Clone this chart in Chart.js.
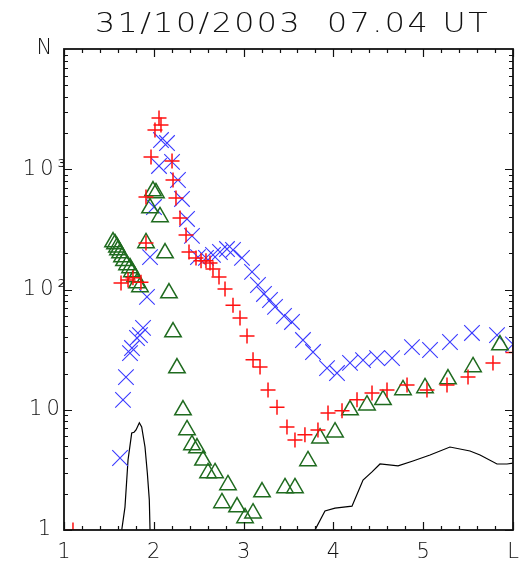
<!DOCTYPE html>
<html><head><meta charset="utf-8">
<script src="https://cdn.jsdelivr.net/npm/chart.js@4.4.0/dist/chart.umd.min.js"></script>
<style>html,body{margin:0;padding:0;background:#fff;} #wrap{width:527px;height:577px;}</style>
</head><body><div id="wrap"><canvas id="c" width="527" height="577"></canvas></div>
<script>
const titleText = '31/10/2003  07.04 UT';
const xTickValues = [1, 2, 3, 4, 5, 6];
const xTickLabels = ['1', '2', '3', '4', '5', 'L'];
const yTickValues = [1, 10, 100, 1000, 10000];
const yTickLabels = ['1', '10', '10\u00B2', '10\u00B3', 'N'];

const redL = [1.10,1.635,1.713,1.768,1.857,1.913,1.913,1.969,2.013,2.058,2.080,2.203,2.214,2.247,2.292,2.359,2.392,2.470,2.526,2.581,2.626,2.659,2.726,2.793,2.882,2.960,3.038,3.105,3.183,3.272,3.372,3.483,3.572,3.683,3.828,3.940,4.096,4.263,4.430,4.597,4.820,5.042,5.265,5.499,5.777,6.000];
const redN = [1.0,113,120,125,115,244,587,1265,2120,2670,2330,1170,814,577,393,284,205,183,173,173,166,148,127,101,74,58,41,26,22.7,14.6,10.5,7.2,5.6,6.2,6.8,9.4,9.8,12.1,13.8,14.6,16.1,14.6,16.1,18.7,24.5,30];

const blueL = [1.624,1.657,1.690,1.735,1.757,1.813,1.846,1.880,1.924,1.958,2.002,2.058,2.080,2.147,2.203,2.269,2.314,2.370,2.425,2.492,2.581,2.659,2.737,2.815,2.882,2.982,3.094,3.160,3.227,3.294,3.350,3.450,3.539,3.661,3.773,3.929,4.040,4.185,4.330,4.486,4.653,4.875,5.076,5.298,5.543,5.822,6.0];
const blueN = [3.97,12.1,18.7,29.6,32.6,39.5,41.8,47.9,86.7,186,485,1065,1750,1652,1150,814,566,386,279,186,183,194,205,217,213,183,140,109,91.8,81.8,71.6,60.2,53.7,38,30.2,22.2,20.2,24.5,25.9,26.9,26.9,33.2,31.4,36.6,43.5,41.8,35];

const greenL = [1.546,1.568,1.590,1.601,1.624,1.646,1.668,1.702,1.735,1.757,1.791,1.813,1.846,1.913,1.991,2.024,1.958,2.069,2.125,2.169,2.214,2.258,2.325,2.370,2.425,2.481,2.548,2.604,2.682,2.826,2.759,2.927,3.016,3.105,3.205,3.461,3.572,3.717,3.851,4.018,4.185,4.374,4.552,4.775,5.020,5.276,5.555,5.855];
const greenN = [248,239,225,213,201,186,173,160,151,140,127,113,105,244,659,635,476,401,201,93.5,44.3,22.2,9.95,6.8,5.1,4.8,3.8,2.98,2.98,2.37,1.68,1.55,1.26,1.38,2.07,2.24,2.24,3.75,5.8,6.5,9.95,10.9,12.1,14.6,15.2,18,22.7,34.5];

const lineL = [1.62,1.643,1.679,1.713,1.754,1.780,1.802,1.839,1.865,1.902,1.928,1.950,1.958,1.98,3.77,3.795,3.906,4.018,4.207,4.330,4.430,4.519,4.720,4.886,5.076,5.298,5.521,5.633,5.822,5.933,6.0];
const lineN = [0.5,1.0,1.55,3.82,6.4,6.5,6.8,7.8,7.2,4.9,2.98,1.78,1.0,0.5,0.5,1.0,1.44,1.52,1.58,2.6,3.04,3.54,3.41,3.75,4.2,4.9,4.54,4.2,3.54,3.54,3.6];

const pts = (xs, ys) => xs.map((v, i) => ({x: v, y: ys[i]}));
const FONT = 'DejaVu Sans';

const idlAxes = {
  id: 'idlAxes',
  beforeDraw(chart) {
    try { chart.ctx.letterSpacing = '4px'; } catch (e) {}
  },
  afterDatasetsDraw(chart) {
    const {ctx, chartArea: a} = chart;
    const x = chart.scales.x, y = chart.scales.y;
    ctx.save();
    ctx.strokeStyle = '#111';
    ctx.lineWidth = 1.8;
    ctx.strokeRect(a.left, a.top, a.right - a.left, a.bottom - a.top);
    ctx.lineWidth = 1.2;
    ctx.beginPath();
    for (let k = 0; k <= 25; k++) {
      const v = 1 + k * 0.2;
      const px = Math.round(x.getPixelForValue(v)) + 0.5;
      const len = (k % 5 === 0) ? 8 : 4;
      ctx.moveTo(px, a.bottom); ctx.lineTo(px, a.bottom - len);
      ctx.moveTo(px, a.top); ctx.lineTo(px, a.top + len);
    }
    for (let d = 0; d < 4; d++) {
      for (let m = 1; m <= 9; m++) {
        const v = m * Math.pow(10, d);
        const py = Math.round(y.getPixelForValue(v)) + 0.5;
        const len = (m === 1) ? 8 : 4;
        ctx.moveTo(a.left, py); ctx.lineTo(a.left + len, py);
        ctx.moveTo(a.right, py); ctx.lineTo(a.right - len, py);
      }
    }
    ctx.stroke();
    ctx.restore();
  },
  afterDraw(chart) {
    const {ctx} = chart;
    ctx.save();
    ctx.font = '200 26px "' + FONT + '"';
    ctx.fillStyle = '#111';
    ctx.textBaseline = 'alphabetic';
    ctx.textAlign = 'left';
    try { ctx.letterSpacing = '2px'; } catch (e) {}
    const w = ctx.measureText(titleText).width;
    const sx = 395 / w;
    ctx.translate(95, 32);
    ctx.scale(sx, 1);
    ctx.fillText(titleText, 0, 0);
    ctx.restore();
    try { ctx.letterSpacing = '0px'; } catch (e) {}
  }
};

new Chart(document.getElementById('c'), {
  type: 'scatter',
  data: {
    datasets: [
      {label: 'red', data: pts(redL, redN), showLine: false, pointStyle: 'cross', pointRadius: 7.5,
       borderColor: '#ff1010', backgroundColor: '#ff1010', pointBorderWidth: 1.5, borderWidth: 1.5},
      {label: 'green', data: pts(greenL, greenN), showLine: false, pointStyle: 'triangle', pointRadius: 9.5,
       borderColor: '#1f6b1f', backgroundColor: 'rgba(0,0,0,0)', pointBorderWidth: 1.5, borderWidth: 1.5},
      {label: 'blue', data: pts(blueL, blueN), showLine: false, pointStyle: 'crossRot', pointRadius: 11,
       borderColor: '#3a3aff', backgroundColor: '#3a3aff', pointBorderWidth: 1.1, borderWidth: 1.1},
      {label: 'line', data: pts(lineL, lineN), showLine: true, pointRadius: 0, borderColor: '#000',
       borderWidth: 1.2, tension: 0, fill: false}
    ]
  },
  options: {
    responsive: false,
    animation: false,
    devicePixelRatio: 1,
    layout: {padding: {top: 49, right: 14, left: 0, bottom: 0}},
    plugins: {legend: {display: false}, title: {display: false}, tooltip: {enabled: false}},
    scales: {
      x: {
        type: 'linear', min: 1, max: 6,
        grid: {display: false}, border: {display: false},
        afterBuildTicks: s => { s.ticks = xTickValues.map(v => ({value: v})); },
        afterFit: s => { s.height = 47; },
        ticks: {
          autoSkip: false, maxRotation: 0, padding: 2, labelOffset: 2, color: '#111',
          font: {family: FONT, size: 21, weight: 200},
          callback: v => { const i = xTickValues.indexOf(v); return i >= 0 ? xTickLabels[i] : ''; }
        }
      },
      y: {
        type: 'logarithmic', min: 1, max: 10000,
        grid: {display: false, drawTicks: false}, border: {display: false},
        afterBuildTicks: s => { s.ticks = yTickValues.map(v => ({value: v})); },
        afterFit: s => { s.width = 64; },
        ticks: {
          autoSkip: false, padding: 0, color: '#111', crossAlign: 'center',
          font: {family: FONT, size: 21, weight: 200},
          callback: v => { const i = yTickValues.indexOf(v); return i >= 0 ? yTickLabels[i] : ''; }
        }
      }
    }
  },
  plugins: [idlAxes]
});
</script>
</body></html>
